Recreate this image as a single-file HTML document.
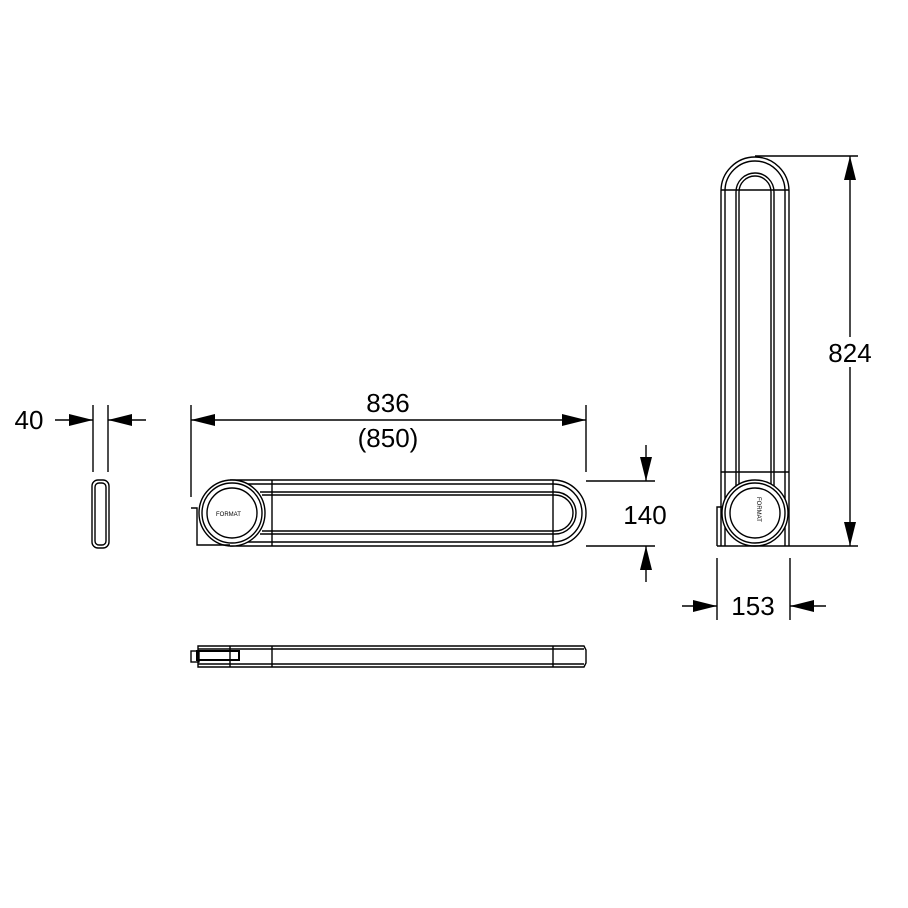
<!DOCTYPE html>
<html><head><style>body{margin:0;background:#fff}svg{display:block}text{font-family:"Liberation Sans",sans-serif;fill:#000}</style></head><body>
<svg width="908" height="908" viewBox="0 0 908 908" fill="none" stroke="#000" stroke-width="1.4">
<defs><marker id="a" viewBox="0 0 24 12" refX="24" refY="6" markerWidth="24" markerHeight="12" markerUnits="userSpaceOnUse" orient="auto-start-reverse"><path d="M0,0 L24,6 L0,12z" fill="#000" stroke="none"/></marker></defs>
<!-- 40 -->
<line x1="93" y1="405" x2="93" y2="472"/><line x1="108" y1="405" x2="108" y2="472"/>
<line x1="55" y1="420" x2="93" y2="420" marker-end="url(#a)"/><line x1="146" y1="420" x2="108" y2="420" marker-end="url(#a)"/>
<text x="29" y="429" font-size="26" text-anchor="middle" stroke="none">40</text>
<rect x="92" y="480" width="17" height="68" rx="6"/><rect x="95" y="483" width="11" height="62" rx="4"/>
<!-- 836 -->
<line x1="191" y1="405" x2="191" y2="497"/><line x1="586" y1="405" x2="586" y2="472"/>
<line x1="191" y1="420" x2="586" y2="420" marker-start="url(#a)" marker-end="url(#a)"/>
<text x="388" y="412" font-size="26" text-anchor="middle" stroke="none">836</text>
<text x="388" y="447" font-size="26" text-anchor="middle" stroke="none">(850)</text>
<!-- horizontal bar -->
<path d="M230,480 H553 A33,33 0 0 1 553,546 H230"/>
<path d="M232,484 H553 A29,29 0 0 1 553,542 H232"/>
<path d="M260,492 H555 A21,21 0 0 1 555,534 H260"/>
<path d="M262,495 H555 A18,18 0 0 1 555,531 H262"/>
<line x1="272" y1="480" x2="272" y2="546"/><line x1="553" y1="480" x2="553" y2="546"/>
<circle cx="232" cy="513" r="33" fill="#fff"/><circle cx="232" cy="513" r="30"/><circle cx="232" cy="513" r="25"/>
<text x="216" y="516" font-size="6" stroke="none">FORMAT</text>
<path d="M191,508 H197 V545 H230"/>
<line x1="586" y1="481" x2="655" y2="481"/><line x1="586" y1="546" x2="655" y2="546"/>
<line x1="646" y1="445" x2="646" y2="481" marker-end="url(#a)"/><line x1="646" y1="582" x2="646" y2="546" marker-end="url(#a)"/>
<text x="645" y="524" font-size="26" text-anchor="middle" stroke="none">140</text>
<!-- side view -->
<path d="M198,646 H584 L586,650 V663 L584,667 H198 Z"/>
<line x1="198" y1="649" x2="584" y2="649"/><line x1="198" y1="664" x2="584" y2="664"/>
<line x1="230" y1="646" x2="230" y2="667"/><line x1="272" y1="646" x2="272" y2="667"/><line x1="553" y1="646" x2="553" y2="667"/>
<rect x="191" y="651" width="8" height="11"/><rect x="197" y="651" width="42" height="9" stroke-width="2"/>
<!-- vertical bar -->
<path d="M721,546 V191 A34,34 0 0 1 789,191 V546"/>
<path d="M725,546 V191 A30,30 0 0 1 785,191 V546"/>
<path d="M736,490 V192 A19,19 0 0 1 774,192 V490"/>
<path d="M739,490 V192 A16,16 0 0 1 771,192 V490"/>
<line x1="721" y1="190" x2="789" y2="190"/><line x1="721" y1="472" x2="789" y2="472"/>
<circle cx="755" cy="513" r="33" fill="#fff"/><circle cx="755" cy="513" r="30"/><circle cx="755" cy="513" r="25"/>
<text x="0" y="0" font-size="6" stroke="none" transform="translate(757,497) rotate(90)">FORMAT</text>
<path d="M717,546 V507 H722 M717,546 H790"/>
<line x1="755" y1="156" x2="858" y2="156"/><line x1="790" y1="546" x2="858" y2="546"/>
<line x1="850" y1="352" x2="850" y2="156" marker-end="url(#a)"/><line x1="850" y1="352" x2="850" y2="546" marker-end="url(#a)"/>
<rect x="824" y="337" width="52" height="30" fill="#fff" stroke="none"/>
<text x="850" y="362" font-size="26" text-anchor="middle" stroke="none">824</text>
<line x1="717" y1="558" x2="717" y2="620"/><line x1="790" y1="558" x2="790" y2="620"/>
<line x1="682" y1="606" x2="717" y2="606" marker-end="url(#a)"/><line x1="826" y1="606" x2="790" y2="606" marker-end="url(#a)"/>
<text x="753" y="615" font-size="26" text-anchor="middle" stroke="none">153</text>
</svg>
</body></html>
